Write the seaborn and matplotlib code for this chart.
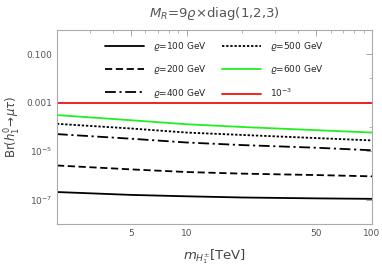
import numpy as np
import pandas as pd
import matplotlib
matplotlib.use("Agg")
import matplotlib.pyplot as plt
import matplotlib.ticker as mticker
import seaborn as sns

# masses of the charged Higgs [TeV]
m_tev = [2, 5, 10, 20, 50, 100]

# branching ratios
br_rho100 = [2.1e-7, 1.6e-7, 1.4e-7, 1.25e-7, 1.15e-7, 1.1e-7]
br_rho200 = [2.6e-6, 1.8e-6, 1.4e-6, 1.2e-6, 1.05e-6, 9.3e-7]
br_rho400 = [5.1e-5, 3.3e-5, 2.3e-5, 1.8e-5, 1.4e-5, 1.1e-5]
br_rho500 = [1.35e-4, 8.7e-5, 5.9e-5, 4.7e-5, 3.5e-5, 2.8e-5]
br_rho600 = [3.1e-4, 1.9e-4, 1.3e-4, 1.0e-4, 7.4e-5, 5.9e-5]
br_limit = [1e-3] * len(m_tev)

labels = [r"$\varrho$=100 GeV", r"$\varrho$=200 GeV", r"$\varrho$=400 GeV",
          r"$\varrho$=500 GeV", r"$\varrho$=600 GeV", r"10$^{-3}$"]
series = [br_rho100, br_rho200, br_rho400, br_rho500, br_rho600, br_limit]

df = pd.concat([pd.DataFrame({"m": m_tev, "br": s, "label": lab})
                for s, lab in zip(series, labels)], ignore_index=True)

palette = dict(zip(labels, ["black", "black", "black", "black", "#22ee22", "#ee1111"]))
dashes = dict(zip(labels, ["", (4, 2), (6, 2, 1.2, 2), (1.3, 1.0), "", ""]))

sns.set_style("white")
plt.rcParams["font.family"] = ["DejaVu Sans"]
plt.rcParams["mathtext.fontset"] = "dejavusans"

fig = plt.figure(figsize=(3.82, 2.74), dpi=100)
ax = fig.add_axes([0.149, 0.182, 0.825, 0.709])

sns.lineplot(data=df, x="m", y="br", hue="label", style="label",
             palette=palette, dashes=dashes, linewidth=1.3, ax=ax,
             hue_order=labels, style_order=labels)

ax.set_xscale("log")
ax.set_yscale("log")
ax.set_xlim(2, 100)
ax.set_ylim(1e-8, 1)

ax.xaxis.set_major_locator(mticker.FixedLocator([5, 10, 50, 100]))
ax.xaxis.set_major_formatter(mticker.FixedFormatter(["5", "10", "50", "100"]))
ax.xaxis.set_minor_locator(mticker.FixedLocator([2, 3, 4, 6, 7, 8, 9, 20, 30, 40, 60, 70, 80, 90]))
ax.xaxis.set_minor_formatter(mticker.NullFormatter())
ax.yaxis.set_major_locator(mticker.FixedLocator([1e-1, 1e-3, 1e-5, 1e-7]))
ax.yaxis.set_major_formatter(mticker.FixedFormatter(["0.100", "0.001", r"$10^{-5}$", r"$10^{-7}$"]))
ax.yaxis.set_minor_locator(mticker.FixedLocator([1e-2, 1e-4, 1e-6, 1e-8]))
ax.yaxis.set_minor_formatter(mticker.NullFormatter())

ax.tick_params(which="both", direction="in", top=True, right=True, colors="#999999",
               labelcolor="#555555", labelsize=6.5)
ax.tick_params(which="major", length=4, width=0.6)
ax.tick_params(which="minor", length=2, width=0.5)
for sp in ax.spines.values():
    sp.set_color("#aaaaaa")
    sp.set_linewidth(0.8)

ax.set_xlabel(r"$m_{H_1^{\pm}}$[TeV]", fontsize=9.5, color="#444444", labelpad=7)
ax.set_ylabel(r"Br($h_1^0\!\rightarrow\!\mu\tau$)", fontsize=8.5, color="#444444", labelpad=2)
ax.set_title(r"$M_R$=9$\varrho$×diag(1,2,3)", fontsize=9.5, color="#555555", pad=9)

handles, labs = ax.get_legend_handles_labels()
ax.legend(handles, labs, ncol=2, loc="upper center", bbox_to_anchor=(0.5, 0.995),
          frameon=False, fontsize=6.5, handlelength=4.4, labelspacing=1.15,
          columnspacing=1.6, handletextpad=1.0, borderaxespad=0.6)

fig.savefig("out.png", dpi=100)
